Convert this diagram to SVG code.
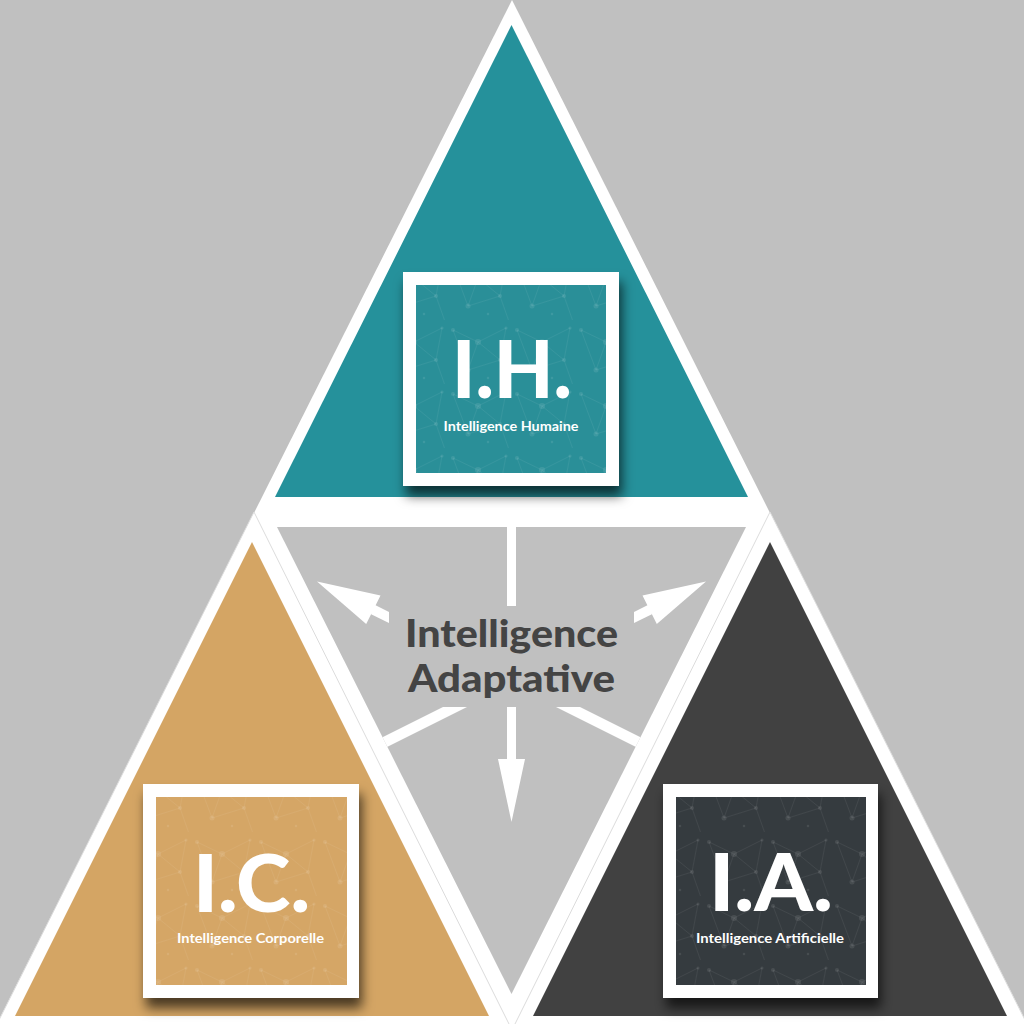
<svg xmlns="http://www.w3.org/2000/svg" width="1024" height="1024" viewBox="0 0 1024 1024">
  <style>
    .frame { fill: #ffffff; }
    .big { font-family: 'Lato', 'Liberation Sans', sans-serif; font-weight: 900; fill: #ffffff; text-anchor: middle; }
    .sub { font-family: 'Lato', 'Liberation Sans', sans-serif; font-weight: 700; fill: #ffffff; text-anchor: middle; font-size: 13px; }
    .center { font-family: 'Lato', 'Liberation Sans', sans-serif; font-weight: 900; fill: #444444; text-anchor: middle; font-size: 38px; }
    .conn { fill: #ffffff; }
    .edge { fill: #ffffff; stroke: #dcdcdc; stroke-width: 1; }
  </style>
  <defs>
    <filter id="sh" x="-20%" y="-20%" width="140%" height="150%">
      <feDropShadow dx="3" dy="10" stdDeviation="6" flood-color="#000000" flood-opacity="0.65"/>
    </filter>
    <pattern id="net" width="64" height="64" patternUnits="userSpaceOnUse">
      <g stroke="#ffffff" stroke-opacity="0.08" stroke-width="0.8" fill="none">
        <path d="M5 10 L30 22 L58 8 M30 22 L20 50 L52 40 L58 8 M20 50 L5 10 M52 40 L64 74 M30 22 L52 40"/>
      </g>
      <g fill="#ffffff" fill-opacity="0.09">
        <circle cx="5" cy="10" r="2"/>
        <circle cx="30" cy="22" r="3"/>
        <circle cx="58" cy="8" r="1.5"/>
        <circle cx="20" cy="50" r="2.5"/>
        <circle cx="52" cy="40" r="2"/>
        <circle cx="40" cy="58" r="1.2"/>
      </g>
    </pattern>
    <clipPath id="grayClip">
      <polygon points="277,527 746,527 511.5,994"/>
    </clipPath>
  </defs>

  <rect x="0" y="0" width="1024" height="1024" fill="#c0c0c0"/>

  <!-- white structure -->
  <polygon points="512,0 -6,1030 1030,1030" fill="#ffffff"/>
  <polygon class="edge" points="254,512 -6,1030 512,1030"/>
  <polygon class="edge" points="770,512 512,1030 1030,1030"/>

  <!-- center gray triangle -->
  <polygon points="277,527 746,527 511.5,994" fill="#c0c0c0"/>

  <g id="node-ih">
    <polygon points="511.5,25 275,497 748,497" fill="#25919b"/>
    <rect class="frame" x="403" y="272" width="216" height="214" filter="url(#sh)"/>
    <rect x="416" y="285" width="190" height="188" fill="#2a8f98"/>
    <rect x="416" y="285" width="190" height="188" fill="url(#net)"/>
    <text class="big" x="512" y="398" font-size="80" textLength="120" lengthAdjust="spacingAndGlyphs">I.H.</text>
    <text class="sub" x="511" y="431" textLength="135" lengthAdjust="spacingAndGlyphs">Intelligence Humaine</text>
  </g>

  <g id="node-ic">
    <polygon points="252,542 15,1016 489,1016" fill="#d4a564"/>
    <rect class="frame" x="143" y="784" width="216" height="214" filter="url(#sh)"/>
    <rect x="156" y="797" width="191" height="188" fill="#d5a666"/>
    <rect x="156" y="797" width="191" height="188" fill="url(#net)"/>
    <text class="big" x="251.5" y="912" font-size="80" textLength="117" lengthAdjust="spacingAndGlyphs">I.C.</text>
    <text class="sub" x="250.5" y="943" textLength="147" lengthAdjust="spacingAndGlyphs">Intelligence Corporelle</text>
  </g>

  <g id="node-ia">
    <polygon points="770,542 533,1016 1007,1016" fill="#414141"/>
    <rect class="frame" x="663" y="784" width="215" height="214" filter="url(#sh)"/>
    <rect x="676" y="797" width="190" height="188" fill="#353b3f"/>
    <rect x="676" y="797" width="190" height="188" fill="url(#net)"/>
    <text class="big" x="771" y="911" font-size="80" textLength="124" lengthAdjust="spacingAndGlyphs">I.A.</text>
    <text class="sub" x="770" y="943" textLength="148" lengthAdjust="spacingAndGlyphs">Intelligence Artificielle</text>
  </g>

  <g id="connectors" clip-path="url(#grayClip)">
    <!-- up to I.H. -->
    <rect class="conn" x="507" y="515" width="9" height="91"/>
    <!-- up-left arrow -->
    <polygon class="conn" points="389,611.9 389,623.1 371.1,614.2 371.1,603"/>
    <polygon class="conn" points="317,581.5 380.5,595.4 366.2,624"/>
    <!-- up-right arrow -->
    <polygon class="conn" points="634,611.9 634,623.1 651.9,614.2 651.9,603"/>
    <polygon class="conn" points="706,581.5 642.5,595.4 656.8,624"/>
    <!-- lower-left line -->
    <polygon class="conn" points="467,707 443,707 243,807 267,807"/>
    <!-- lower-right line -->
    <polygon class="conn" points="556,707 580,707 780,807 756,807"/>
    <!-- down arrow -->
    <rect class="conn" x="507" y="707" width="9" height="54"/>
    <polygon class="conn" points="498,759 525,759 511.5,822"/>
  </g>

  <g id="node-center">
    <text class="center" x="511.5" y="647" textLength="213" lengthAdjust="spacingAndGlyphs">Intelligence</text>
    <text class="center" x="511.5" y="692" textLength="207" lengthAdjust="spacingAndGlyphs">Adaptative</text>
  </g>
</svg>
